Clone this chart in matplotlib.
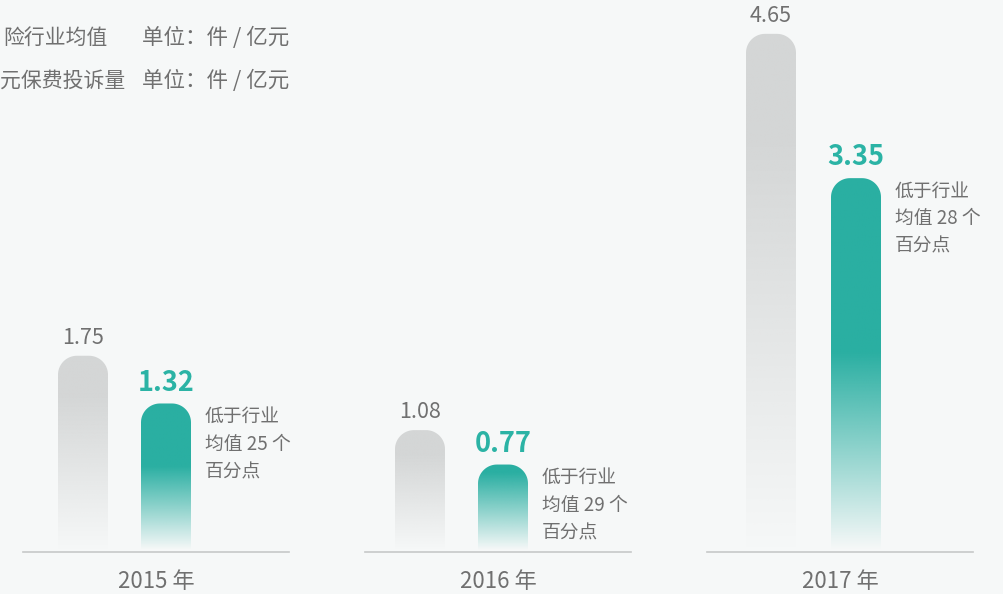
import numpy as np
import matplotlib
matplotlib.use("Agg")
import matplotlib.pyplot as plt
from matplotlib.path import Path
from matplotlib.patches import PathPatch
from matplotlib.colors import to_rgb

plt.rcParams["font.family"] = ["Noto Sans CJK SC", "DejaVu Sans"]

# data
years = ["2015 年", "2016 年", "2017 年"]
industry_avg = [1.75, 1.08, 4.65]
company = [1.32, 0.77, 3.35]
gap_points = [25, 29, 28]
legend_names = ["险行业均值", "元保费投诉量"]
unit_label = "单位：件 / 亿元"

BG = "#f6f8f8"
GREY = "#d4d6d6"
TEAL = "#2aafa2"
TEAL_TXT = "#2bb3a5"
TXT = "#707070"

W, H = 1004, 594
PX_PER_UNIT_Y = 111.0
PX_PER_UNIT_X = 342.0
BASE_PX = 550  # baseline from top

fig = plt.figure(figsize=(W / 100, H / 100), dpi=100, facecolor=BG)
ax = fig.add_axes([0, (H - BASE_PX) / H, 1, BASE_PX / H])
ax.set_facecolor(BG)
ax.axis("off")

x0 = 156 / PX_PER_UNIT_X
xlim = (-x0, W / PX_PER_UNIT_X - x0)
ylim = (0, BASE_PX / PX_PER_UNIT_Y)

bar_w = 50 / PX_PER_UNIT_X
# bar offsets from the group centre, in px
grey_off = [-73, -78, -69]
teal_off = [10, 5, 16]
line_half = 133 / PX_PER_UNIT_X
radius_px = 19
teal_fade = [0.57, 0.9, 0.53]


def rounded_bar(xc, h):
    rx = radius_px / PX_PER_UNIT_X
    ry = min(radius_px / PX_PER_UNIT_Y, h)
    left, right = xc - bar_w / 2, xc + bar_w / 2
    t1 = np.linspace(0, np.pi / 2, 20)
    t2 = np.linspace(np.pi / 2, np.pi, 20)
    pts = [(left, 0), (right, 0)]
    pts += [(right - rx + rx * np.cos(t), h - ry + ry * np.sin(t)) for t in t1]
    pts += [(left + rx + rx * np.cos(t), h - ry + ry * np.sin(t)) for t in t2]
    pts.append((left, 0))
    codes = [Path.MOVETO] + [Path.LINETO] * (len(pts) - 2) + [Path.CLOSEPOLY]
    return Path(pts, codes)


def gradient_bar(xc, h, color, fade):
    patch = PathPatch(rounded_bar(xc, h), facecolor="none", edgecolor="none")
    ax.add_patch(patch)
    n = 256
    frac = np.linspace(0, 1, n)
    alpha = np.clip(frac / fade, 0, 1)
    arr = np.zeros((n, 1, 4))
    arr[:, 0, :3] = to_rgb(color)
    arr[:, 0, 3] = alpha
    im = ax.imshow(arr, extent=(xc - bar_w / 2, xc + bar_w / 2, 0, h),
                   origin="lower", aspect="auto", interpolation="bilinear", zorder=2)
    im.set_clip_path(patch)


for i, year in enumerate(years):
    xg = i + grey_off[i] / PX_PER_UNIT_X
    xt = i + teal_off[i] / PX_PER_UNIT_X
    gradient_bar(xg, industry_avg[i], GREY, 0.8)
    gradient_bar(xt, company[i], TEAL, teal_fade[i])

    ax.plot([i - line_half, i + line_half], [-2 / PX_PER_UNIT_Y] * 2,
            color="#c6c8c8", linewidth=1.2, zorder=3, clip_on=False)

    ax.annotate(f"{industry_avg[i]:.2f}", (xg, industry_avg[i]), textcoords="offset points",
                xytext=(0, 5), ha="center", va="bottom", fontsize=15.5, color=TXT)
    ax.annotate(f"{company[i]:.2f}", (xt, company[i]), textcoords="offset points",
                xytext=(0, 5), ha="center", va="bottom", fontsize=19.5, fontweight="bold",
                color=TEAL_TXT)
    ax.annotate(f"低于行业\n均值 {gap_points[i]} 个\n百分点", (xt + bar_w / 2, company[i]),
                textcoords="offset points", xytext=(10, -2), ha="left", va="top",
                fontsize=13.5, color=TXT, linespacing=1.4)
    ax.annotate(year, (i, 0), textcoords="offset points", xytext=(0, -23),
                ha="center", va="center", fontsize=16, color=TXT, annotation_clip=False)

ax.set_xlim(*xlim)
ax.set_ylim(*ylim)

# legend (left part cut off in the source image)
fig.text(3 / W, 1 - 38 / H, legend_names[0], fontsize=15, color=TXT, va="center", ha="left")
fig.text(0 / W, 1 - 81 / H, legend_names[1], fontsize=15, color=TXT, va="center", ha="left")
fig.text(142 / W, 1 - 38 / H, unit_label, fontsize=15.5, color=TXT, va="center", ha="left")
fig.text(142 / W, 1 - 81 / H, unit_label, fontsize=15.5, color=TXT, va="center", ha="left")

fig.savefig("out.png", dpi=100, facecolor=BG)
